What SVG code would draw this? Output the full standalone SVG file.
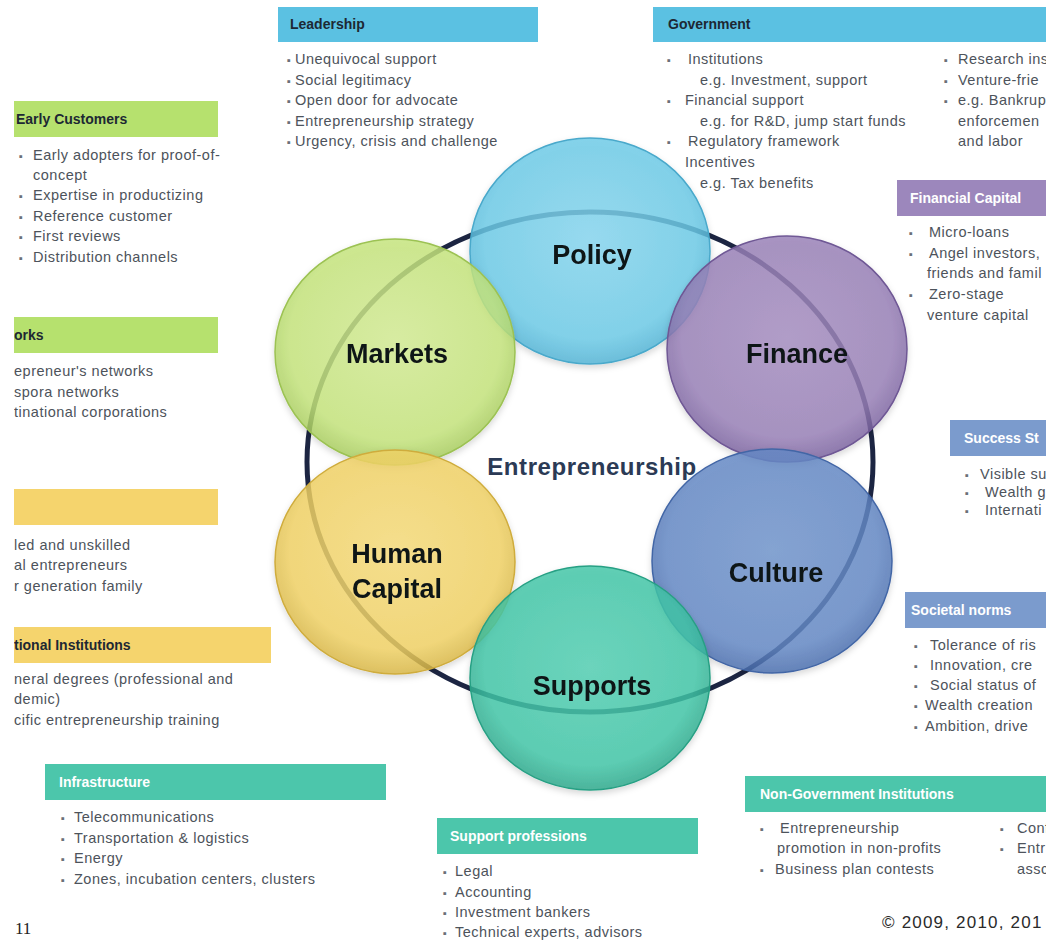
<svg xmlns="http://www.w3.org/2000/svg" width="1055" height="941" viewBox="0 0 1055 941">
  <defs>
    <style>
      .hd { font-family: "Liberation Sans", Arial, sans-serif; font-weight: bold; font-size: 14px; fill: #1d2833; }
      .hw { font-family: "Liberation Sans", Arial, sans-serif; font-weight: bold; font-size: 14px; fill: #ffffff; }
      .b { font-family: "Liberation Sans", Arial, sans-serif; font-size: 14.5px; letter-spacing: 0.5px; fill: #4d535b; }
      .dot { fill: #6b7078; font-size: 11px; }
      .lbl { font-family: "Liberation Sans", Arial, sans-serif; font-weight: bold; font-size: 27px; fill: #111418; text-anchor: middle; }
      .core { font-family: "Liberation Sans", Arial, sans-serif; font-weight: bold; font-size: 24px; fill: #2b3a55; text-anchor: middle; letter-spacing: 0.6px; }
      .pg { font-family: "Liberation Serif", "Times New Roman", serif; font-size: 17px; fill: #222; }
      .copy { font-family: "Liberation Sans", Arial, sans-serif; font-size: 17px; letter-spacing: 1.2px; fill: #2a2a2a; }
      .blue { fill: #5bc1e2; }
      .green { fill: #b6e16e; }
      .yellow { fill: #f5d46d; }
      .teal { fill: #4cc6ab; }
      .purple { fill: #9c87bc; }
      .slate { fill: #7b9bcd; }
      .bubble { stroke-width: 1.5; fill-opacity: 0.82; }
    </style>
    <clipPath id="page">
      <rect x="14" y="0" width="1032" height="941"/>
    </clipPath>
    <filter id="soft" x="-10%" y="-10%" width="120%" height="125%">
      <feDropShadow dx="0" dy="3" stdDeviation="3" flood-color="#000" flood-opacity="0.18"/>
    </filter>
    <radialGradient id="gPolicy" cx="50%" cy="45%" r="55%">
      <stop offset="0" stop-color="#86d6ef"/>
      <stop offset="0.8" stop-color="#6ccbe8"/>
      <stop offset="1" stop-color="#52b4d6"/>
    </radialGradient>
    <radialGradient id="gMarkets" cx="50%" cy="45%" r="55%">
      <stop offset="0" stop-color="#d3ec93"/>
      <stop offset="0.8" stop-color="#c5e57c"/>
      <stop offset="1" stop-color="#a8cd5e"/>
    </radialGradient>
    <radialGradient id="gFinance" cx="50%" cy="45%" r="55%">
      <stop offset="0" stop-color="#a58dc0"/>
      <stop offset="0.8" stop-color="#9880b7"/>
      <stop offset="1" stop-color="#7b63a0"/>
    </radialGradient>
    <radialGradient id="gHuman" cx="50%" cy="45%" r="55%">
      <stop offset="0" stop-color="#f6dc7a"/>
      <stop offset="0.8" stop-color="#f1d264"/>
      <stop offset="1" stop-color="#d9b746"/>
    </radialGradient>
    <radialGradient id="gCulture" cx="50%" cy="45%" r="55%">
      <stop offset="0" stop-color="#7094cc"/>
      <stop offset="0.8" stop-color="#6388c5"/>
      <stop offset="1" stop-color="#4a6eae"/>
    </radialGradient>
    <radialGradient id="gSupports" cx="50%" cy="45%" r="55%">
      <stop offset="0" stop-color="#52cfb2"/>
      <stop offset="0.8" stop-color="#40c6a7"/>
      <stop offset="1" stop-color="#2ba88b"/>
    </radialGradient>
  </defs>

  <rect x="0" y="0" width="1055" height="941" fill="#ffffff"/>

  <g clip-path="url(#page)">
    <!-- ring joining the six pillars -->
    <g id="connectors">
      <ellipse cx="590" cy="462" rx="283" ry="250" fill="none" stroke="#1c2542" stroke-width="5"/>
    </g>

    <!-- pillar bubbles -->
    <g id="node-policy" filter="url(#soft)">
      <ellipse class="bubble" cx="590" cy="251" rx="120" ry="113" fill="url(#gPolicy)" stroke="#4aa9cb"/>
      <text class="lbl" x="592" y="264">Policy</text>
    </g>
    <g id="node-markets" filter="url(#soft)">
      <ellipse class="bubble" cx="395" cy="352" rx="120" ry="113" fill="url(#gMarkets)" stroke="#9cc253"/>
      <text class="lbl" x="397" y="363">Markets</text>
    </g>
    <g id="node-finance" filter="url(#soft)">
      <ellipse class="bubble" cx="787" cy="349" rx="120" ry="113" fill="url(#gFinance)" stroke="#6f5895"/>
      <text class="lbl" x="797" y="363">Finance</text>
    </g>
    <g id="node-human-capital" filter="url(#soft)">
      <ellipse class="bubble" cx="395" cy="562" rx="120" ry="112" fill="url(#gHuman)" stroke="#cfac3c"/>
      <text class="lbl" x="397" y="563">Human</text>
      <text class="lbl" x="397" y="598">Capital</text>
    </g>
    <g id="node-culture" filter="url(#soft)">
      <ellipse class="bubble" cx="772" cy="561" rx="120" ry="112" fill="url(#gCulture)" stroke="#4266a6"/>
      <text class="lbl" x="776" y="582">Culture</text>
    </g>
    <g id="node-supports" filter="url(#soft)">
      <ellipse class="bubble" cx="590" cy="678" rx="120" ry="112" fill="url(#gSupports)" stroke="#27a084"/>
      <text class="lbl" x="592" y="695">Supports</text>
    </g>
    <g id="node-core">
      <text class="core" x="592" y="475">Entrepreneurship</text>
    </g>

    <!-- Leadership -->
    <g id="node-leadership">
      <rect class="blue" x="278" y="7" width="260" height="35"/>
      <text class="hd" x="290" y="29">Leadership</text>
      <text class="b" y="64"><tspan class="dot" x="287">▪</tspan><tspan x="295">Unequivocal support</tspan></text>
      <text class="b" y="85"><tspan class="dot" x="287">▪</tspan><tspan x="295">Social legitimacy</tspan></text>
      <text class="b" y="105"><tspan class="dot" x="287">▪</tspan><tspan x="295">Open door  for advocate</tspan></text>
      <text class="b" y="126"><tspan class="dot" x="287">▪</tspan><tspan x="295">Entrepreneurship  strategy</tspan></text>
      <text class="b" y="146"><tspan class="dot" x="287">▪</tspan><tspan x="295">Urgency, crisis and challenge</tspan></text>
    </g>

    <!-- Government -->
    <g id="node-government">
      <rect class="blue" x="653" y="7" width="393" height="35"/>
      <text class="hd" x="668" y="29">Government</text>
      <text class="b" y="64"><tspan class="dot" x="667">▪</tspan><tspan x="688">Institutions</tspan></text>
      <text class="b" y="85" x="700">e.g.  Investment, support</text>
      <text class="b" y="105"><tspan class="dot" x="667">▪</tspan><tspan x="685">Financial support</tspan></text>
      <text class="b" y="126" x="700">e.g. for R&amp;D, jump start funds</text>
      <text class="b" y="146"><tspan class="dot" x="667">▪</tspan><tspan x="688">Regulatory framework</tspan></text>
      <text class="b" y="167" x="685">Incentives</text>
      <text class="b" y="188" x="700">e.g.  Tax benefits</text>
      <text class="b" y="64"><tspan class="dot" x="944">▪</tspan><tspan x="958">Research ins</tspan></text>
      <text class="b" y="85"><tspan class="dot" x="944">▪</tspan><tspan x="958">Venture-frie</tspan></text>
      <text class="b" y="105"><tspan class="dot" x="944">▪</tspan><tspan x="958">e.g. Bankrup</tspan></text>
      <text class="b" y="126" x="958">enforcemen</text>
      <text class="b" y="146" x="958">and labor</text>
    </g>

    <!-- Financial Capital -->
    <g id="node-financial-capital">
      <rect class="purple" x="897" y="180" width="149" height="36"/>
      <text class="hw" x="910" y="203">Financial  Capital</text>
      <text class="b" y="237"><tspan class="dot" x="909">▪</tspan><tspan x="929">Micro-loans</tspan></text>
      <text class="b" y="258"><tspan class="dot" x="909">▪</tspan><tspan x="929">Angel investors,</tspan></text>
      <text class="b" y="278" x="927">friends and famil</text>
      <text class="b" y="299"><tspan class="dot" x="909">▪</tspan><tspan x="929">Zero-stage</tspan></text>
      <text class="b" y="320" x="927">venture capital</text>
    </g>

    <!-- Success Stories -->
    <g id="node-success-stories">
      <rect class="slate" x="950" y="420" width="96" height="36"/>
      <text class="hw" x="964" y="443">Success St</text>
      <text class="b" y="479"><tspan class="dot" x="965">▪</tspan><tspan x="980">Visible su</tspan></text>
      <text class="b" y="497"><tspan class="dot" x="965">▪</tspan><tspan x="985">Wealth ge</tspan></text>
      <text class="b" y="515"><tspan class="dot" x="965">▪</tspan><tspan x="985">Internati</tspan></text>
    </g>

    <!-- Societal norms -->
    <g id="node-societal-norms">
      <rect class="slate" x="905" y="592" width="141" height="36"/>
      <text class="hw" x="911" y="615">Societal norms</text>
      <text class="b" y="650"><tspan class="dot" x="914">▪</tspan><tspan x="930">Tolerance of ris</tspan></text>
      <text class="b" y="670"><tspan class="dot" x="914">▪</tspan><tspan x="930">Innovation, cre</tspan></text>
      <text class="b" y="690"><tspan class="dot" x="914">▪</tspan><tspan x="930">Social status of</tspan></text>
      <text class="b" y="710"><tspan class="dot" x="914">▪</tspan><tspan x="925">Wealth creation</tspan></text>
      <text class="b" y="731"><tspan class="dot" x="914">▪</tspan><tspan x="925">Ambition, drive</tspan></text>
    </g>

    <!-- Early Customers -->
    <g id="node-early-customers">
      <rect class="green" x="14" y="101" width="204" height="36"/>
      <text class="hd" x="16" y="124">Early Customers</text>
      <text class="b" y="160"><tspan class="dot" x="19">▪</tspan><tspan x="33">Early adopters  for proof-of-</tspan></text>
      <text class="b" y="180" x="33">concept</text>
      <text class="b" y="200"><tspan class="dot" x="19">▪</tspan><tspan x="33">Expertise in productizing</tspan></text>
      <text class="b" y="221"><tspan class="dot" x="19">▪</tspan><tspan x="33">Reference customer</tspan></text>
      <text class="b" y="241"><tspan class="dot" x="19">▪</tspan><tspan x="33">First reviews</tspan></text>
      <text class="b" y="262"><tspan class="dot" x="19">▪</tspan><tspan x="33">Distribution channels</tspan></text>
    </g>

    <!-- Networks -->
    <g id="node-networks">
      <rect class="green" x="14" y="317" width="204" height="36"/>
      <text class="hd" x="14" y="340">orks</text>
      <text class="b" y="376" x="14">epreneur's  networks</text>
      <text class="b" y="397" x="14">spora networks</text>
      <text class="b" y="417" x="14">tinational corporations</text>
    </g>

    <!-- Human capital sources -->
    <g id="node-workforce">
      <rect class="yellow" x="14" y="489" width="204" height="36"/>
      <text class="b" y="550" x="14">led and unskilled</text>
      <text class="b" y="570" x="14">al entrepreneurs</text>
      <text class="b" y="591" x="14">r generation family</text>
    </g>

    <!-- Educational Institutions -->
    <g id="node-education">
      <rect class="yellow" x="14" y="627" width="257" height="36"/>
      <text class="hd" x="14" y="650">tional  Institutions</text>
      <text class="b" y="684" x="14">neral degrees (professional  and</text>
      <text class="b" y="704" x="14">demic)</text>
      <text class="b" y="725" x="14">cific entrepreneurship  training</text>
    </g>

    <!-- Infrastructure -->
    <g id="node-infrastructure">
      <rect class="teal" x="45" y="764" width="341" height="36"/>
      <text class="hw" x="59" y="787">Infrastructure</text>
      <text class="b" y="822"><tspan class="dot" x="61">▪</tspan><tspan x="74">Telecommunications</tspan></text>
      <text class="b" y="843"><tspan class="dot" x="61">▪</tspan><tspan x="74">Transportation  &amp; logistics</tspan></text>
      <text class="b" y="863"><tspan class="dot" x="61">▪</tspan><tspan x="74">Energy</tspan></text>
      <text class="b" y="884"><tspan class="dot" x="61">▪</tspan><tspan x="74">Zones, incubation  centers,  clusters</tspan></text>
    </g>

    <!-- Support professions -->
    <g id="node-support-professions">
      <rect class="teal" x="437" y="818" width="261" height="36"/>
      <text class="hw" x="450" y="841">Support professions</text>
      <text class="b" y="876"><tspan class="dot" x="443">▪</tspan><tspan x="455">Legal</tspan></text>
      <text class="b" y="897"><tspan class="dot" x="443">▪</tspan><tspan x="455">Accounting</tspan></text>
      <text class="b" y="917"><tspan class="dot" x="443">▪</tspan><tspan x="455">Investment bankers</tspan></text>
      <text class="b" y="937"><tspan class="dot" x="443">▪</tspan><tspan x="455">Technical experts, advisors</tspan></text>
    </g>

    <!-- Non-Government Institutions -->
    <g id="node-ngo">
      <rect class="teal" x="745" y="776" width="301" height="36"/>
      <text class="hw" x="760" y="799">Non-Government Institutions</text>
      <text class="b" y="833"><tspan class="dot" x="760">▪</tspan><tspan x="780">Entrepreneurship</tspan></text>
      <text class="b" y="853" x="777">promotion in non-profits</text>
      <text class="b" y="874"><tspan class="dot" x="760">▪</tspan><tspan x="775">Business plan contests</tspan></text>
      <text class="b" y="833"><tspan class="dot" x="1000">▪</tspan><tspan x="1017">Conf</tspan></text>
      <text class="b" y="853"><tspan class="dot" x="1000">▪</tspan><tspan x="1017">Entr</tspan></text>
      <text class="b" y="874" x="1017">assc</text>
    </g>

    <text class="copy" x="882" y="928">© 2009, 2010, 201</text>
    <text class="pg" x="15" y="934">11</text>
  </g>
</svg>
